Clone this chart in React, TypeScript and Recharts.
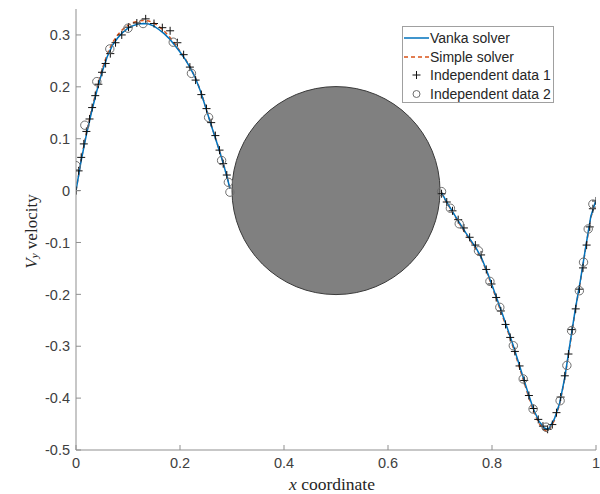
import React from 'react'
import { ComposedChart, Line, Scatter, XAxis, YAxis, ReferenceDot } from 'recharts'

// left lobe (x from 0 up to the cylinder edge)
const xLeft = [0, 0.01, 0.02, 0.03, 0.04, 0.05, 0.06, 0.07, 0.08, 0.09, 0.10, 0.11, 0.12, 0.13, 0.14, 0.15, 0.16, 0.17, 0.18, 0.19, 0.20, 0.21, 0.22, 0.23, 0.24, 0.25, 0.26, 0.27, 0.28, 0.29, 0.296]
const vankaLeft = [0, 0.058, 0.108, 0.152, 0.192, 0.228, 0.258, 0.28, 0.294, 0.305, 0.313, 0.318, 0.321, 0.322, 0.321, 0.317, 0.31, 0.302, 0.292, 0.28, 0.267, 0.253, 0.236, 0.216, 0.19, 0.158, 0.126, 0.095, 0.063, 0.028, 0.004]
const simpleLeft = [0, 0.06, 0.111, 0.156, 0.196, 0.233, 0.263, 0.285, 0.3, 0.311, 0.319, 0.324, 0.327, 0.328, 0.327, 0.323, 0.316, 0.307, 0.296, 0.283, 0.269, 0.254, 0.237, 0.217, 0.191, 0.159, 0.127, 0.096, 0.064, 0.029, 0.004]

// right lobe (from the cylinder edge to x = 1)
const xRight = [0.703, 0.71, 0.72, 0.73, 0.74, 0.75, 0.76, 0.77, 0.78, 0.79, 0.80, 0.81, 0.82, 0.83, 0.84, 0.85, 0.86, 0.87, 0.88, 0.89, 0.90, 0.905, 0.91, 0.92, 0.93, 0.94, 0.95, 0.96, 0.97, 0.98, 0.99, 1.0]
const vankaRight = [-0.004, -0.017, -0.034, -0.05, -0.066, -0.082, -0.097, -0.112, -0.13, -0.155, -0.182, -0.21, -0.238, -0.267, -0.296, -0.328, -0.36, -0.392, -0.422, -0.444, -0.457, -0.46, -0.458, -0.44, -0.41, -0.36, -0.295, -0.23, -0.173, -0.11, -0.05, -0.018]
const simpleRight = [-0.004, -0.018, -0.035, -0.052, -0.068, -0.084, -0.099, -0.114, -0.132, -0.157, -0.185, -0.213, -0.241, -0.27, -0.3, -0.332, -0.364, -0.396, -0.426, -0.448, -0.461, -0.464, -0.461, -0.443, -0.412, -0.362, -0.297, -0.232, -0.175, -0.112, -0.052, -0.02]

// independent data 1 (+)
const data1X = [0, 0.005, 0.01, 0.015, 0.02, 0.026, 0.031, 0.037, 0.043, 0.05, 0.057, 0.066, 0.076, 0.088, 0.101, 0.117, 0.134, 0.15, 0.166, 0.181, 0.195, 0.207, 0.219, 0.23, 0.241, 0.251, 0.26, 0.268, 0.276, 0.283, 0.29, 0.703, 0.713, 0.724, 0.735, 0.746, 0.757, 0.768, 0.779, 0.789, 0.799, 0.808, 0.817, 0.826, 0.835, 0.844, 0.853, 0.862, 0.871, 0.88, 0.889, 0.898, 0.907, 0.916, 0.924, 0.932, 0.94, 0.947, 0.954, 0.961, 0.968, 0.975, 0.982, 0.988, 0.994, 1.0]
const data1Y = [0, 0.038, 0.064, 0.09, 0.114, 0.138, 0.16, 0.183, 0.205, 0.228, 0.245, 0.264, 0.285, 0.3, 0.315, 0.323, 0.331, 0.322, 0.314, 0.308, 0.285, 0.262, 0.238, 0.213, 0.185, 0.158, 0.131, 0.106, 0.078, 0.052, 0.03, -0.006, -0.022, -0.039, -0.056, -0.072, -0.09, -0.105, -0.124, -0.152, -0.18, -0.206, -0.232, -0.258, -0.283, -0.31, -0.338, -0.366, -0.395, -0.42, -0.441, -0.454, -0.46, -0.451, -0.428, -0.398, -0.357, -0.315, -0.268, -0.228, -0.19, -0.149, -0.105, -0.07, -0.035, -0.02]

// independent data 2 (o)
const data2X = [0, 0.017, 0.04, 0.065, 0.1, 0.129, 0.187, 0.222, 0.255, 0.28, 0.293, 0.296, 0.703, 0.72, 0.737, 0.774, 0.796, 0.815, 0.841, 0.86, 0.879, 0.904, 0.931, 0.944, 0.953, 0.968, 0.976, 0.985, 0.994]
const data2Y = [0.048, 0.126, 0.21, 0.273, 0.313, 0.322, 0.286, 0.226, 0.141, 0.058, 0.016, -0.003, -0.002, -0.034, -0.064, -0.116, -0.175, -0.225, -0.299, -0.363, -0.421, -0.456, -0.405, -0.337, -0.27, -0.193, -0.138, -0.074, -0.026]

const xTicks = [0, 0.2, 0.4, 0.6, 0.8, 1]
const yTicks = [-0.5, -0.4, -0.3, -0.2, -0.1, 0, 0.1, 0.2, 0.3]
const xDomain = [0, 1]
const yDomain = [-0.5, 0.35]

// cylinder: center and radius in data units
const cylX = 0.5
const cylY = 0
const cylR = 0.2

const W = 600
const H = 494
const M = { top: 9, right: 4, left: 0, bottom: 0 }
const Y_W = 76
const X_H = 44
const PLOT_W = W - M.left - M.right - Y_W

const vankaData = [
  ...xLeft.map((x, i) => ({ x, y: vankaLeft[i] })),
  { x: 0.5, y: null },
  ...xRight.map((x, i) => ({ x, y: vankaRight[i] })),
]
const simpleData = [
  ...xLeft.map((x, i) => ({ x, y: simpleLeft[i] })),
  { x: 0.5, y: null },
  ...xRight.map((x, i) => ({ x, y: simpleRight[i] })),
]
const pts1 = data1X.map((x, i) => ({ x, y: data1Y[i] }))
const pts2 = data2X.map((x, i) => ({ x, y: data2Y[i] }))

const AX = '#8f8f8f'
const TXT = '#404040'
const SANS = '"Liberation Sans", Arial, sans-serif'
const SERIF = '"Liberation Serif", "Times New Roman", serif'
const TM = 6
const TL = 5

const BottomTick = (p: any) => {
  const ay = p.y - TM
  return (
    <g>
      <line x1={p.x} x2={p.x} y1={ay} y2={ay - TL} stroke={AX} />
      <text x={p.x} y={p.y} dy="0.8em" textAnchor="middle" fontFamily={SANS} fontSize={14.5} fill={TXT}>{String(p.payload.value)}</text>
    </g>
  )
}
const TopTick = (p: any) => {
  const ay = p.y + TM
  return <line x1={p.x} x2={p.x} y1={ay} y2={ay + TL} stroke={AX} />
}
const LeftTick = (p: any) => {
  const ax = p.x + TM
  return (
    <g>
      <line x1={ax} x2={ax + TL} y1={p.y} y2={p.y} stroke={AX} />
      <text x={p.x} y={p.y} dy="0.36em" textAnchor="end" fontFamily={SANS} fontSize={14.5} fill={TXT}>{String(p.payload.value)}</text>
    </g>
  )
}
const RightTick = (p: any) => {
  const ax = p.x - TM
  return <line x1={ax} x2={ax - TL} y1={p.y} y2={p.y} stroke={AX} />
}

const YLabel = (p: any) => {
  const vb = p.viewBox || { x: 0, y: M.top, width: Y_W, height: 441 }
  const cx = vb.x + 31
  const cy = vb.y + vb.height / 2 + 2
  return (
    <text x={cx} y={cy} transform={`rotate(-90 ${cx} ${cy})`} textAnchor="middle" dominantBaseline="central" fontFamily={SERIF} fontSize={17} fill="#262626">
      <tspan fontStyle="italic">V</tspan>
      <tspan fontStyle="italic" fontSize={11} dy={3}>y</tspan>
      <tspan dy={-3}> velocity</tspan>
    </text>
  )
}
const XLabel = (p: any) => {
  const vb = p.viewBox || { x: Y_W, y: 450, width: PLOT_W, height: X_H }
  const cx = vb.x + vb.width / 2 - 4
  return (
    <text x={cx} y={vb.y + 40} textAnchor="middle" fontFamily={SERIF} fontSize={17.5} fill="#262626">
      <tspan fontStyle="italic">x</tspan> coordinate
    </text>
  )
}

const Plus = (p: any) => (
  <path d={`M${p.cx - 4},${p.cy}h8M${p.cx},${p.cy - 4}v8`} stroke="#111" strokeWidth={1} fill="none" />
)
const Ring = (p: any) => (
  <circle cx={p.cx} cy={p.cy} r={4.2} stroke="#6e6e6e" strokeWidth={1} fill="none" />
)

const legendItems = [
  { name: 'Vanka solver', kind: 'line' },
  { name: 'Simple solver', kind: 'dash' },
  { name: 'Independent data 1', kind: 'plus' },
  { name: 'Independent data 2', kind: 'ring' },
]

function LegendBox() {
  return (
    <div style={{ position: 'absolute', left: 402, top: 26, width: 152, height: 77, background: '#fff', border: '1px solid #a0a0a0', fontFamily: SANS, fontSize: 14, color: '#262626', boxSizing: 'border-box' }}>
      {legendItems.map((it, i) => (
        <div key={it.name} style={{ position: 'absolute', left: 0, top: 2 + i * 18.5, height: 18, display: 'flex', alignItems: 'center', whiteSpace: 'nowrap' }}>
          <svg width={27} height={18} style={{ display: 'block' }}>
            {it.kind === 'line' && <line x1={1} x2={26} y1={9} y2={9} stroke="#0072BD" strokeWidth={1.5} />}
            {it.kind === 'dash' && <line x1={1} x2={26} y1={9} y2={9} stroke="#D95319" strokeWidth={1.5} strokeDasharray="4 3" />}
            {it.kind === 'plus' && <path d="M9.5,9h8M13.5,5v8" stroke="#111" />}
            {it.kind === 'ring' && <circle cx={13.5} cy={9} r={3.5} stroke="#6e6e6e" fill="none" />}
          </svg>
          <span>{it.name}</span>
        </div>
      ))}
    </div>
  )
}

export default function App() {
  return (
    <div style={{ position: 'absolute', left: 0, top: 0, width: W, height: H, background: '#fff' }}>
      <ComposedChart width={W} height={H} margin={M}>
        <XAxis dataKey="x" type="number" domain={xDomain} ticks={xTicks} height={X_H} stroke={AX} tickSize={0} tickMargin={TM} tick={<BottomTick />} label={<XLabel />} allowDataOverflow />
        <XAxis xAxisId="top" dataKey="x" type="number" orientation="top" domain={xDomain} ticks={xTicks} height={0} stroke={AX} tickSize={0} tickMargin={TM} tick={<TopTick />} />
        <YAxis type="number" domain={yDomain} ticks={yTicks} width={Y_W} stroke={AX} tickSize={0} tickMargin={TM} tick={<LeftTick />} label={<YLabel />} allowDataOverflow />
        <YAxis yAxisId="right" type="number" orientation="right" domain={yDomain} ticks={yTicks} width={0} stroke={AX} tickSize={0} tickMargin={TM} tick={<RightTick />} />
        <ReferenceDot x={cylX} y={cylY} r={cylR * PLOT_W / (xDomain[1] - xDomain[0])} fill="#808080" stroke="#3a3a3a" strokeWidth={1} />
        <Line data={simpleData} dataKey="y" stroke="#D95319" strokeWidth={1.5} strokeDasharray="4 3" dot={false} isAnimationActive={false} connectNulls={false} />
        <Line data={vankaData} dataKey="y" stroke="#0072BD" strokeWidth={1.5} dot={false} isAnimationActive={false} connectNulls={false} />
        <Scatter data={pts1} dataKey="y" shape={<Plus />} isAnimationActive={false} />
        <Scatter data={pts2} dataKey="y" shape={<Ring />} isAnimationActive={false} />
      </ComposedChart>
      <LegendBox />
    </div>
  )
}
